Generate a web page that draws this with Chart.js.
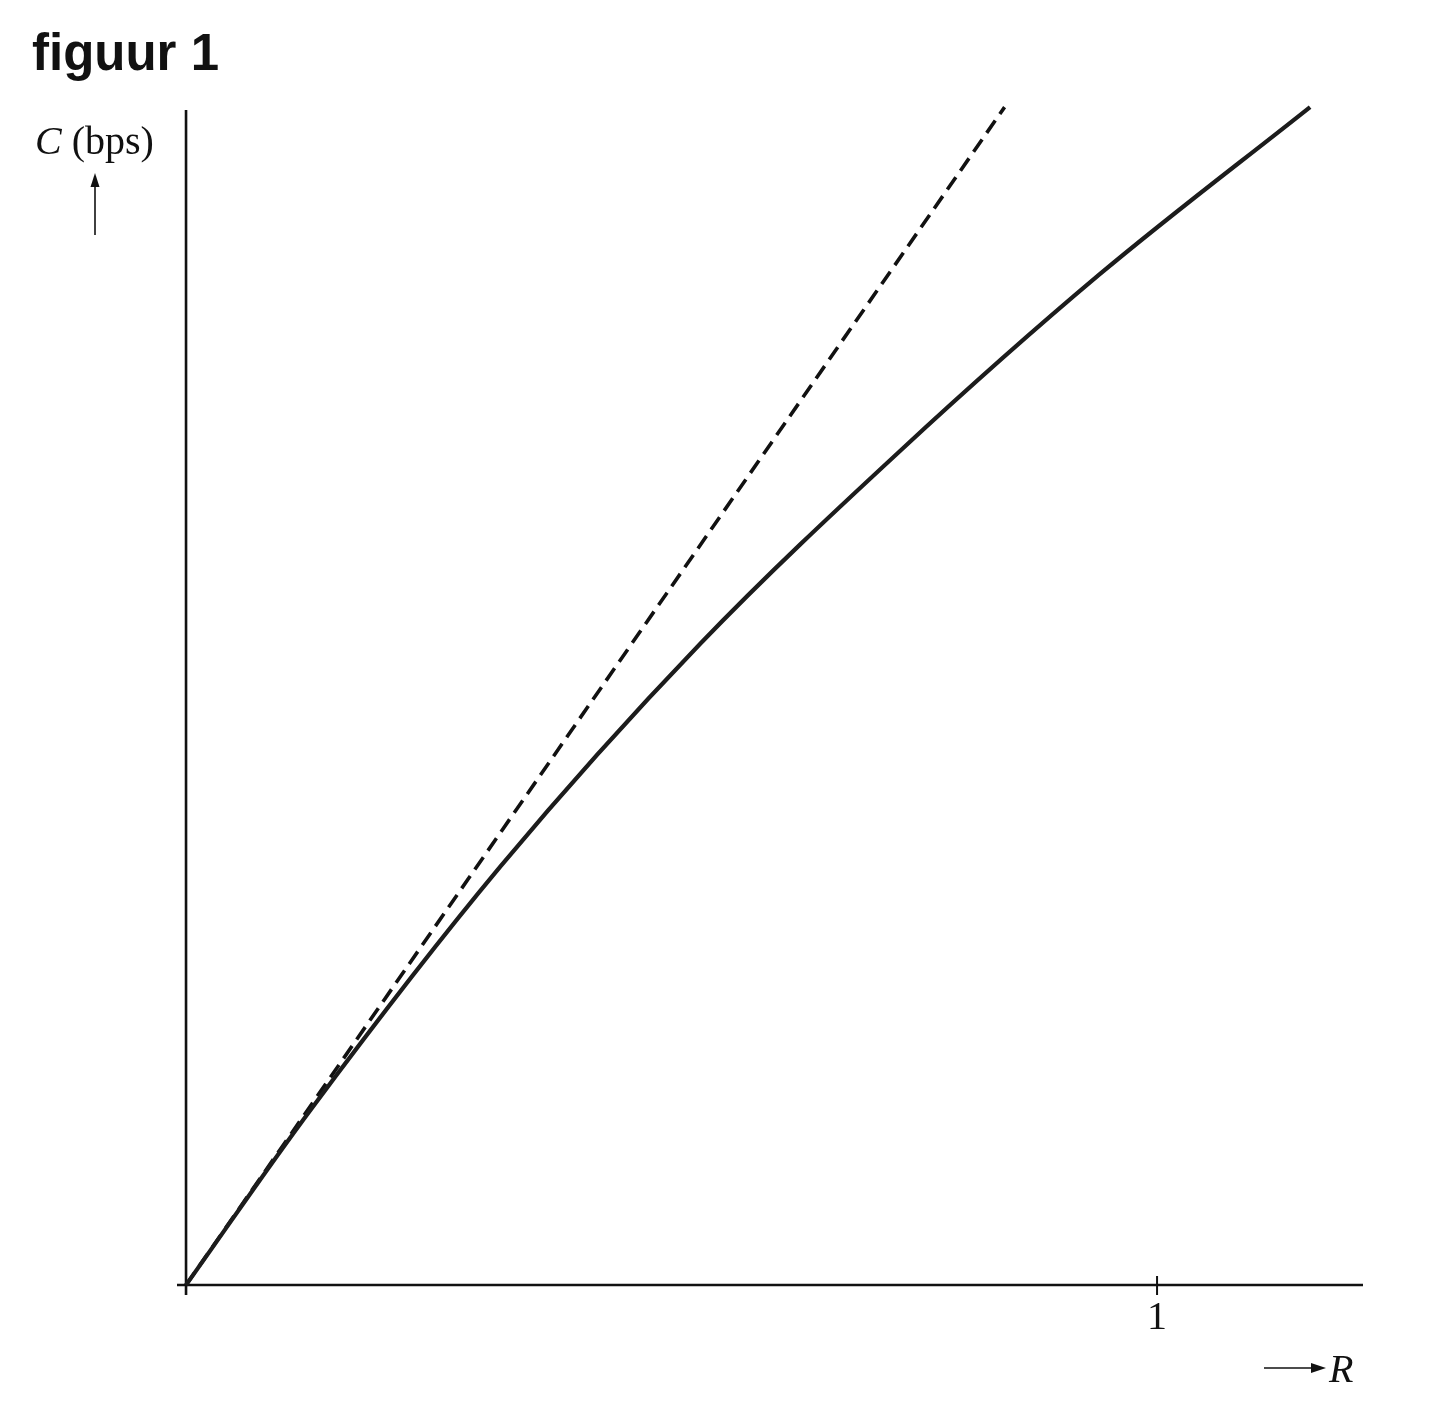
<!DOCTYPE html>
<html>
<head>
<meta charset="utf-8">
<script src="https://cdn.jsdelivr.net/npm/chart.js@4"></script>
<style>
  html, body { margin: 0; padding: 0; background: #fff; }
  #wrap { position: relative; width: 1429px; height: 1422px; }
  canvas { position: absolute; left: 0; top: 0; }
  .t { position: absolute; white-space: nowrap; color: #111; }
  #title { left: 32px; top: 27px; font: bold 51px "Liberation Sans", Arial, sans-serif; line-height: 51px; }
  #ylab { left: 35px; top: 121px; font: 40px "Liberation Serif", "Times New Roman", serif; line-height: 40px; }
  #xlab { left: 1329px; top: 1349px; font: italic 40px "Liberation Serif", "Times New Roman", serif; line-height: 40px; }
</style>
</head>
<body>
<div id="wrap">
  <canvas id="c" width="1429" height="1422"></canvas>
  <div class="t" id="title">figuur 1</div>
  <div class="t" id="ylab"><i>C</i> (bps)</div>
  <div class="t" id="xlab">R</div>
</div>
<script>
// ---- data ----
const curveR = [0, 0.128, 0.3234, 0.5293, 0.7353, 0.9413, 1.1576];
const curveC = [0, 0.180, 0.4305, 0.6601, 0.8589, 1.0412, 1.2131];
const dashR = [0, 0.843];
const dashC = [0, 1.213];
const xTickValues = [1];
const xTickLabels = ["1"];

const toPts = (xs, ys) => xs.map((x, i) => ({ x: x, y: ys[i] }));

const axesPlugin = {
  id: 'axesPlugin',
  beforeDatasetsDraw(chart) {
    const ctx = chart.ctx;
    const xs = chart.scales.x, ys = chart.scales.y;
    const x0 = xs.getPixelForValue(0), y0 = ys.getPixelForValue(0);
    ctx.save();
    ctx.strokeStyle = '#111';
    ctx.lineWidth = 2.6;
    ctx.beginPath();
    // x axis
    ctx.moveTo(xs.getPixelForValue(xs.min), y0);
    ctx.lineTo(xs.getPixelForValue(xs.max), y0);
    // y axis
    ctx.moveTo(x0, ys.getPixelForValue(ys.min));
    ctx.lineTo(x0, ys.getPixelForValue(1.210));
    ctx.stroke();
    // ticks
    ctx.lineWidth = 2;
    ctx.fillStyle = '#111';
    ctx.font = '40px "Liberation Serif", "Times New Roman", serif';
    ctx.textAlign = 'center';
    ctx.textBaseline = 'alphabetic';
    xTickValues.forEach((v, i) => {
      const px = xs.getPixelForValue(v);
      ctx.beginPath();
      ctx.moveTo(px, y0 - 9);
      ctx.lineTo(px, y0 + 10);
      ctx.stroke();
      ctx.fillText(xTickLabels[i], px, y0 + 44);
    });
    // arrow up next to C (bps)
    ctx.lineWidth = 1.6;
    ctx.beginPath();
    ctx.moveTo(95, 235);
    ctx.lineTo(95, 182);
    ctx.stroke();
    ctx.beginPath();
    ctx.moveTo(95, 173);
    ctx.lineTo(90.5, 187);
    ctx.lineTo(99.5, 187);
    ctx.closePath();
    ctx.fill();
    // arrow right before R
    ctx.beginPath();
    ctx.moveTo(1264, 1368);
    ctx.lineTo(1316, 1368);
    ctx.stroke();
    ctx.beginPath();
    ctx.moveTo(1326, 1368);
    ctx.lineTo(1311, 1363);
    ctx.lineTo(1311, 1373);
    ctx.closePath();
    ctx.fill();
    ctx.restore();
  }
};

new Chart(document.getElementById('c'), {
  type: 'scatter',
  data: {
    datasets: [
      {
        data: toPts(curveR, curveC),
        showLine: true,
        borderColor: '#1c1c1c',
        borderWidth: 4.2,
        pointRadius: 0,
        cubicInterpolationMode: 'monotone',
        fill: false
      },
      {
        data: toPts(dashR, dashC),
        showLine: true,
        borderColor: '#111',
        borderWidth: 3.6,
        borderDash: [15, 8],
        pointRadius: 0,
        fill: false
      }
    ]
  },
  options: {
    responsive: false,
    animation: false,
    devicePixelRatio: 1,
    layout: { padding: { left: 177, right: 66, top: 105, bottom: 127 } },
    plugins: { legend: { display: false }, tooltip: { enabled: false } },
    scales: {
      x: { type: 'linear', min: -0.0093, max: 1.2121, display: false },
      y: { type: 'linear', min: -0.0103, max: 1.2152, display: false }
    }
  },
  plugins: [axesPlugin]
});
</script>
</body>
</html>
